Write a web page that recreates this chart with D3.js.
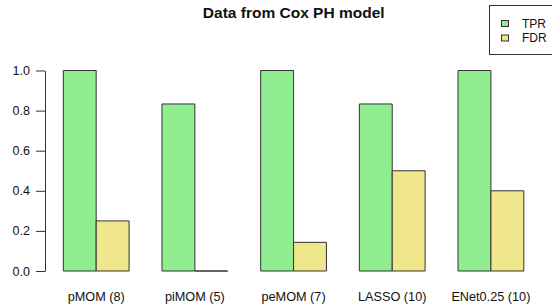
<!DOCTYPE html>
<html>
<head>
<meta charset="utf-8">
<script src="https://cdn.jsdelivr.net/npm/d3@7"></script>
<style>
  body { margin: 0; background: #fff; }
  svg { display: block; font-family: "Liberation Sans", Arial, Helvetica, sans-serif; }
</style>
</head>
<body>
<div id="chart"></div>
<script>
const width = 552;
const height = 308;

const methods = ["pMOM (8)", "piMOM (5)", "peMOM (7)", "LASSO (10)", "ENet0.25 (10)"];
const seriesNames = ["TPR", "FDR"];
const tpr = [1, 0.833, 1, 0.833, 1];
const fdr = [0.25, 0, 0.143, 0.5, 0.4];
const yTicks = [0, 0.2, 0.4, 0.6, 0.8, 1.0];
const colors = ["#90EE90", "#F0E68C"];

const rows = methods.map((m, i) => ({ method: m, TPR: tpr[i], FDR: fdr[i] }));

const svg = d3.select("#chart").append("svg")
  .attr("width", width)
  .attr("height", height);

const y = d3.scaleLinear().domain([0, 1]).range([271, 70.5]);

const x = d3.scaleBand()
  .domain(methods)
  .range([63.3, 523.8])
  .paddingInner(1/3)
  .paddingOuter(0);

const xs = d3.scaleBand()
  .domain(seriesNames)
  .range([0, x.bandwidth()]);

const color = d3.scaleOrdinal().domain(seriesNames).range(colors);

// bars (paths so a zero bar still shows its outline)
svg.append("g")
  .selectAll("g")
  .data(rows)
  .join("g")
    .attr("transform", d => `translate(${x(d.method)},0)`)
  .selectAll("path")
  .data(d => seriesNames.map(k => ({ key: k, value: d[k] })))
  .join("path")
    .attr("d", d => {
      const x0 = xs(d.key), x1 = x0 + xs.bandwidth();
      const y0 = y(0), y1 = y(d.value);
      return `M${x0},${y0}L${x0},${y1}L${x1},${y1}L${x1},${y0}Z`;
    })
    .attr("fill", d => color(d.key))
    .attr("stroke", "#333")
    .attr("stroke-width", 1);

// y axis
const yAxis = svg.append("g")
  .attr("transform", "translate(45,0)")
  .call(d3.axisLeft(y).tickValues(yTicks).tickFormat(d3.format(".1f")).tickSize(9).tickSizeOuter(0).tickPadding(6));
yAxis.select(".domain").attr("stroke", "#333");
yAxis.selectAll(".tick line").attr("stroke", "#333");
yAxis.selectAll("text")
  .attr("fill", "#111")
  .style("font-size", "12.5px")
  .style("font-family", "Liberation Sans, Arial, sans-serif");

// group labels
svg.append("g")
  .selectAll("text")
  .data(methods)
  .join("text")
    .attr("x", d => x(d) + x.bandwidth() / 2)
    .attr("y", 301)
    .attr("text-anchor", "middle")
    .style("font-size", "12.7px")
    .attr("fill", "#111")
    .text(d => d);

// title
svg.append("text")
  .attr("x", 293.7)
  .attr("y", 18)
  .attr("text-anchor", "middle")
  .style("font-size", "15.5px")
  .style("font-weight", "bold")
  .attr("fill", "#111")
  .text("Data from Cox PH model");

// legend
const legend = svg.append("g");
legend.append("rect")
  .attr("x", 489.5)
  .attr("y", 5.5)
  .attr("width", 70)
  .attr("height", 49)
  .attr("fill", "#fff")
  .attr("stroke", "#333");

const items = legend.selectAll("g.item")
  .data(seriesNames)
  .join("g")
    .attr("class", "item")
    .attr("transform", (d, i) => `translate(0,${23.5 + i * 14.5})`);
items.append("rect")
  .attr("x", 501.5)
  .attr("y", -3)
  .attr("width", 7)
  .attr("height", 6)
  .attr("fill", d => color(d))
  .attr("stroke", "#333");
items.append("text")
  .attr("x", 522)
  .attr("dy", "0.35em")
  .style("font-size", "12px")
  .attr("fill", "#111")
  .text(d => d);
</script>
</body>
</html>
